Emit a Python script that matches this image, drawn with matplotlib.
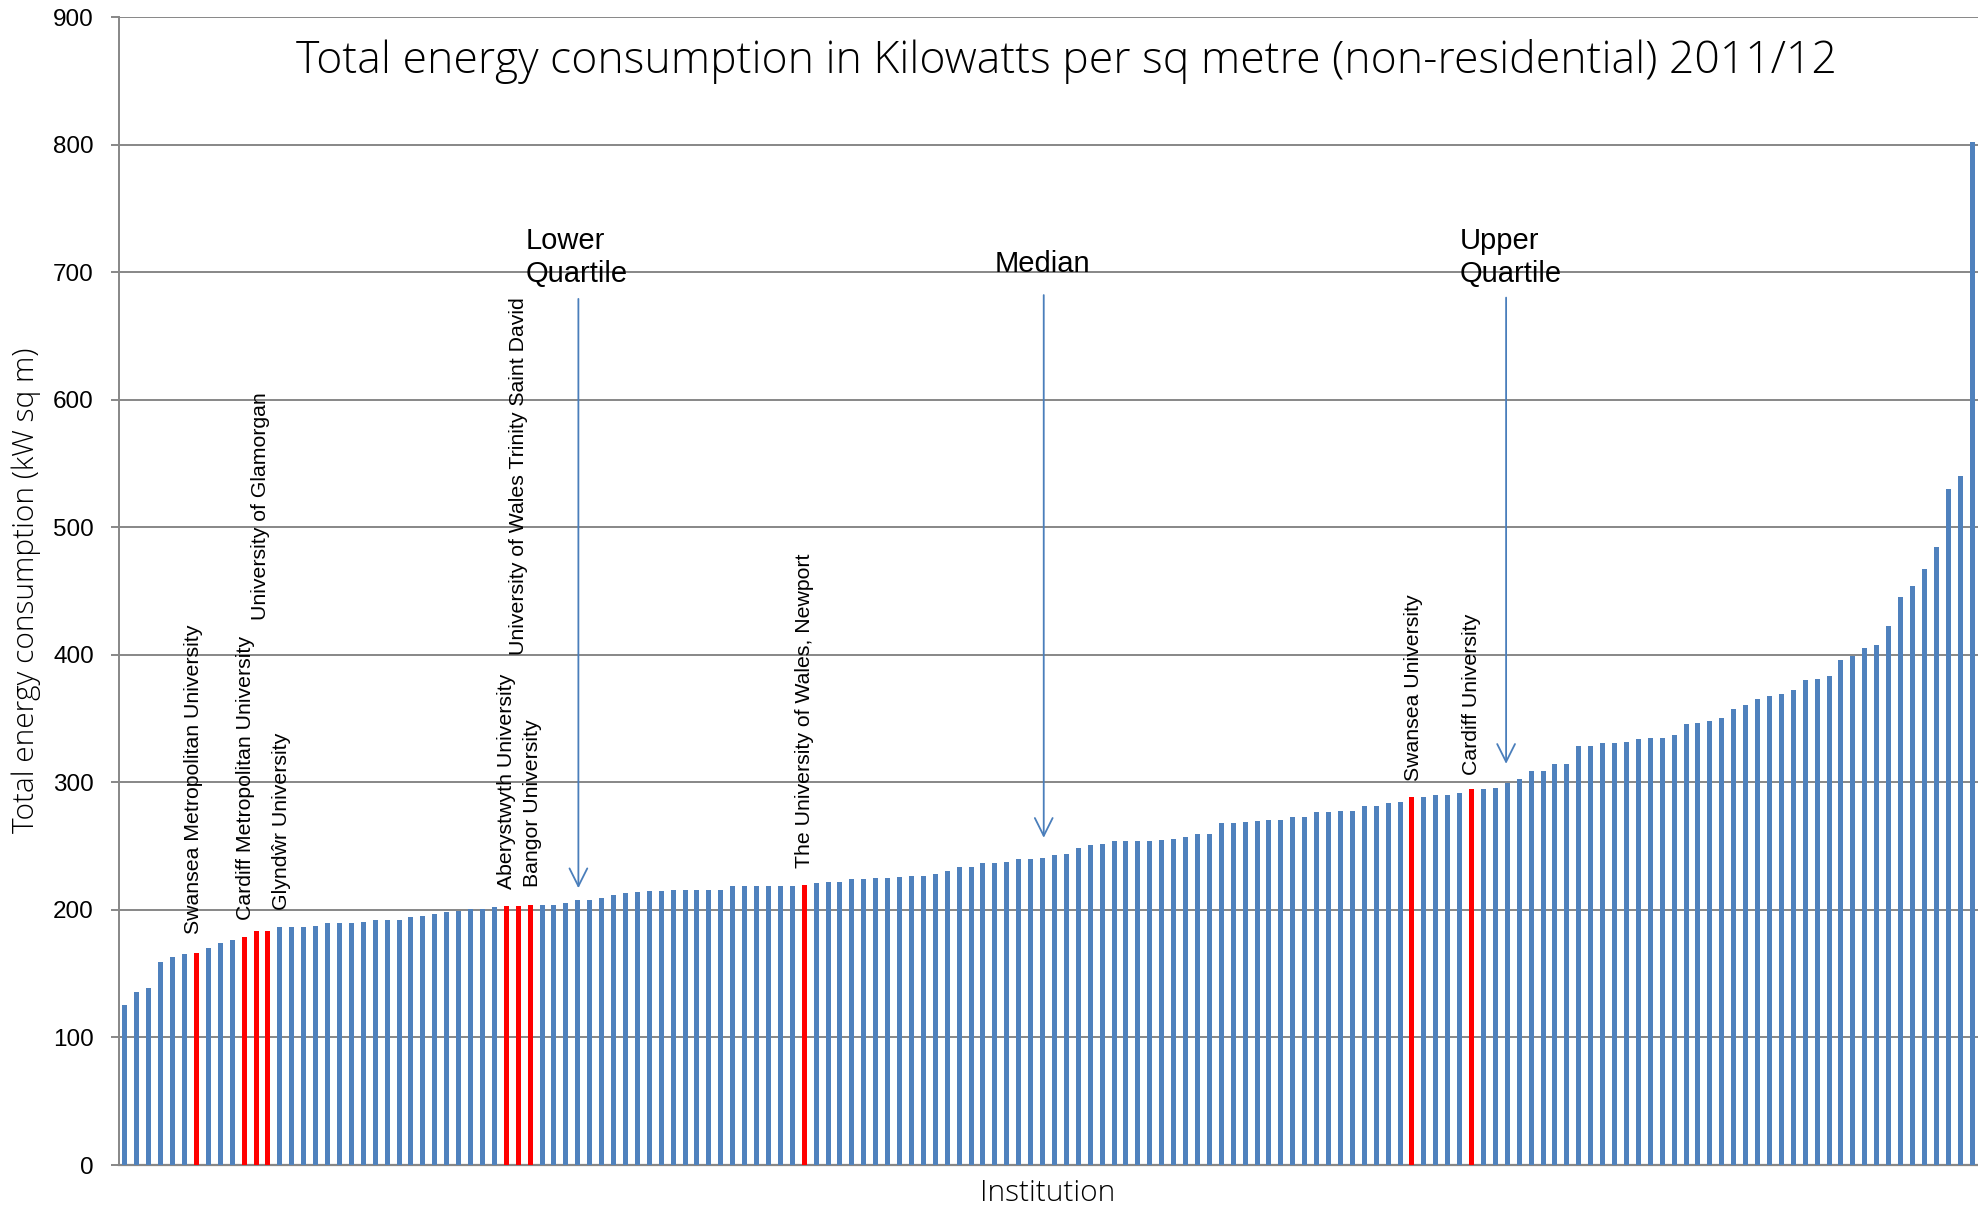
import matplotlib
matplotlib.use("Agg")
import matplotlib.pyplot as plt
import numpy as np

# energy use per institution, sorted ascending (kW sq m)
values = [
    125.7, 135.6, 138.8, 159.5, 163.4, 165.5, 166.5, 170.5, 174.4, 176.7,
    179.1, 183.8, 183.8, 186.4, 186.4, 186.4, 187.5, 189.6, 189.6, 189.6,
    190.7, 191.7, 191.7, 191.7, 194.6, 195.6, 196.6, 198.5, 199.5, 200.8,
    200.8, 201.9, 202.7, 202.7, 204.2, 203.7, 203.7, 205.6, 207.6, 207.6,
    209.0, 211.9, 212.9, 213.7, 214.7, 214.7, 215.8, 215.8, 215.8, 215.8,
    215.8, 218.6, 218.6, 218.7, 218.9, 218.9, 218.9, 219.9, 220.7, 221.8,
    221.8, 223.9, 223.9, 224.9, 224.9, 226.0, 226.8, 226.8, 227.8, 230.4,
    233.6, 233.6, 236.5, 236.5, 237.5, 239.6, 239.6, 240.6, 242.7, 243.5,
    248.7, 250.6, 251.9, 253.7, 253.7, 253.7, 253.7, 254.8, 255.8, 256.9,
    259.8, 259.8, 267.9, 267.9, 268.7, 269.7, 270.8, 270.8, 272.8, 272.8,
    276.8, 276.8, 277.8, 277.8, 281.7, 281.7, 283.7, 284.9, 288.3, 288.8,
    289.9, 289.9, 292.0, 294.6, 295.1, 295.9, 299.1, 302.7, 308.7, 308.7,
    314.0, 314.0, 328.1, 328.1, 330.7, 330.7, 332.0, 333.9, 334.9, 334.9,
    337.0, 345.9, 346.2, 347.9, 350.1, 357.2, 360.3, 365.0, 367.4, 369.2,
    372.1, 380.0, 381.0, 383.1, 396.2, 399.3, 405.1, 408.0, 422.4, 445.2,
    454.0, 467.2, 484.4, 530.2, 540.5, 802.0,
]

# welsh institutions (bar index, 0-based)
welsh_idx = [6, 10, 11, 12, 32, 33, 34, 57, 108, 113]

welsh_names = [
    "Swansea Metropolitan University",
    "Cardiff Metropolitan University",
    "University of Glamorgan",
    "Glyndŵr University",
    "Aberystwyth University",
    "University of Wales Trinity Saint David",
    "Bangor University",
    "The University of Wales, Newport",
    "Swansea University",
    "Cardiff University",
]
# where each rotated label sits (x in bar units, y = bottom of text)
label_pos = [
    (5.75, 181), (10.15, 192), (11.4, 427), (13.1, 200),
    (32.0, 216), (33.0, 400), (34.2, 218), (57.0, 233),
    (108.1, 301), (113.0, 306),
]

quartile_text = ["Lower\nQuartile", "Median", "Upper\nQuartile"]
# arrow x, arrow tip y, arrow start y, text x, text y, text align
quartile_pos = [
    (38.05, 217, 679, 33.6, 735, "left"),
    (77.1, 256.5, 682, 77.0, 717, "center"),
    (115.9, 314.5, 680, 112.0, 735, "left"),
]

BLUE = "#4f81bd"
RED = "#ff0000"
GRID = "#878787"
ARROW = "#4a7ebb"

fig = plt.figure(figsize=(19.78, 12.11), dpi=100)
ax = fig.add_axes([119 / 1978, 46 / 1211, 1 - 119 / 1978, (1165.5 - 17.5) / 1211])

x = np.arange(len(values))
colors = [RED if i in welsh_idx else BLUE for i in x]
ax.bar(x, values, width=0.42, color=colors, zorder=3, linewidth=0)

ax.set_xlim(-0.5, len(values) - 0.5)
ax.set_ylim(0, 900)
ax.set_yticks(np.arange(0, 901, 100))
ax.set_xticks([])
ax.yaxis.grid(True, color=GRID, linewidth=1.4, zorder=0)
ax.set_axisbelow(True)
for s in ["top", "right"]:
    ax.spines[s].set_visible(False)
ax.spines["left"].set_color(GRID)
ax.spines["left"].set_linewidth(1.4)
ax.spines["bottom"].set_color(GRID)
ax.spines["bottom"].set_linewidth(1.6)
ax.tick_params(axis="y", length=6, width=1.4, color=GRID, pad=12,
               labelsize=17.5)
for t in ax.get_yticklabels():
    t.set_family(["Liberation Sans", "DejaVu Sans"])

for name, (lx, ly) in zip(welsh_names, label_pos):
    ax.text(lx, ly, name, rotation=90, ha="center", va="bottom",
            fontsize=15.3, family=["Liberation Sans", "DejaVu Sans"], zorder=5)

for txt, (axx, tip, start, tx, ty, ha) in zip(quartile_text, quartile_pos):
    ax.annotate("", xy=(axx, tip), xytext=(axx, start),
                arrowprops=dict(arrowstyle="->", color=ARROW, lw=1.3,
                                mutation_scale=32, shrinkA=0, shrinkB=0),
                zorder=6)
    ax.text(tx, ty, txt, ha=ha, va="top", fontsize=21, linespacing=1.22,
            family=["Liberation Sans", "DejaVu Sans"], zorder=6)

fig.text(1066 / 1978, 1 - 61 / 1211,
         "Total energy consumption in Kilowatts per sq metre (non-residential) 2011/12",
         ha="center", va="center", fontsize=32, fontweight="light",
         family=["Open Sans", "DejaVu Sans"])
fig.text(26 / 1978, 1 - 590 / 1211, "Total energy consumption (kW sq m)",
         rotation=90, ha="center", va="center", fontsize=21.5,
         fontweight="light", family=["Open Sans", "DejaVu Sans"])
fig.text(1048 / 1978, 1 - 1193 / 1211, "Institution",
         ha="center", va="center", fontsize=21.5, fontweight="light",
         family=["Open Sans", "DejaVu Sans"])

fig.savefig("out.png", dpi=100, facecolor="white")
